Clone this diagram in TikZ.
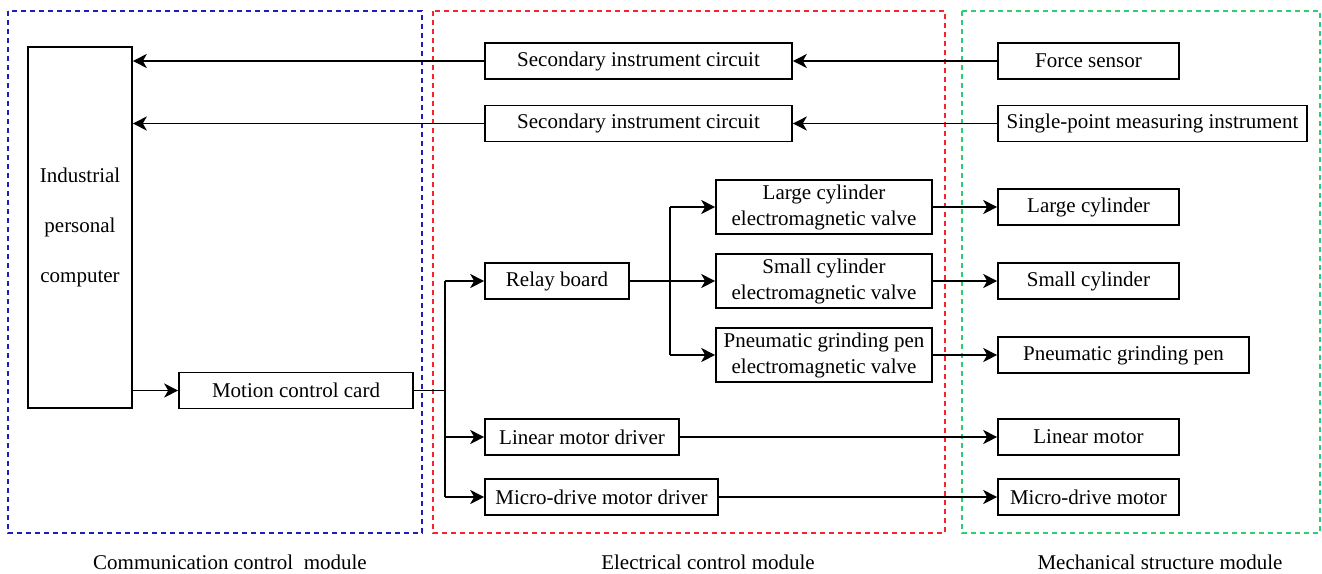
\documentclass[tikz,border=0pt]{standalone}
\usepackage{fontspec}
\setmainfont{Liberation Serif}
\usetikzlibrary{arrows.meta}
\definecolor{modblue}{RGB}{30,30,185}
\definecolor{modred}{RGB}{250,35,45}
\definecolor{modgreen}{RGB}{45,205,115}

\begin{document}
\begin{tikzpicture}[x=0.5pt,y=-0.5pt,
  box/.style={draw,line width=0.8pt,inner sep=0pt,minimum height=18pt,align=center,
    font=\fontsize{10.5}{13}\selectfont},
  frame/.style={line width=0.8pt,dash pattern=on 2.5pt off 2pt},
  wire/.style={line width=0.8pt},
  link/.style={wire,-{Stealth[length=7pt,width=7pt,inset=2pt]}},
  caption/.style={font=\fontsize{10.5}{13}\selectfont}]

\useasboundingbox (0,0) rectangle (1322,573);

% module frames
\draw[frame,modblue] (8,11) rectangle (422,533);
\draw[frame,modred] (433,11) rectangle (945,533);
\draw[frame,modgreen] (962,11) rectangle (1320,533);

\node[caption] (commlab) at (230,562) {Communication control\ \ module};
\node[caption] (eleclab) at (708,562) {Electrical control module};
\node[caption] (mechlab) at (1160,562) {Mechanical structure module};

% communication control
\node[box,minimum width=52pt,minimum height=180.5pt,font=\fontsize{10.5}{25}\selectfont]
  (ipc) at (80,227.5) {Industrial\\personal\\computer};
\node[box,minimum width=117pt] (card) at (296,390.5) {Motion control card};

% electrical control
\node[box,minimum width=153.5pt] (sic1) at (638.5,61) {Secondary instrument circuit};
\node[box,minimum width=153.5pt] (sic2) at (638.5,123.5) {Secondary instrument circuit};
\node[box,minimum width=72pt] (relay) at (557,281) {Relay board};
\node[box,minimum width=108pt,minimum height=27pt] (lcv) at (824,207) {Large cylinder\\electromagnetic valve};
\node[box,minimum width=108pt,minimum height=27pt] (scv) at (824,281) {Small cylinder\\electromagnetic valve};
\node[box,minimum width=108pt,minimum height=27pt] (pgv) at (824,355) {Pneumatic grinding pen\\electromagnetic valve};
\node[box,minimum width=97pt] (lmd) at (582,437) {Linear motor driver};
\node[box,minimum width=116.5pt] (mdd) at (601.5,497) {Micro-drive motor driver};

% mechanical structure
\node[box,minimum width=90.5pt] (fs) at (1088.5,61) {Force sensor};
\node[box,minimum width=154.5pt] (sp) at (1152.5,123.5) {Single-point measuring instrument};
\node[box,minimum width=90.5pt] (lc) at (1088.5,207) {Large cylinder};
\node[box,minimum width=90.5pt] (sc) at (1088.5,281) {Small cylinder};
\node[box,minimum width=125.5pt] (pg) at (1123.5,355) {Pneumatic grinding pen};
\node[box,minimum width=90.5pt] (lm) at (1088.5,437) {Linear motor};
\node[box,minimum width=90.5pt] (mdm) at (1088.5,497) {Micro-drive motor};

% measuring path
\draw[link] (fs.west) -- (sic1.east);
\draw[link] (sp.west) -- (sic2.east);
\draw[link] (sic1.west) -- (ipc.east |- sic1.west);
\draw[link] (sic2.west) -- (ipc.east |- sic2.west);

% control path
\draw[link] (ipc.east |- card.west) -- (card.west);
\coordinate (j1) at (445,390.5);
\draw[wire] (card.east) -- (j1);
\draw[wire] (j1 |- relay.west) -- (j1 |- mdd.west);
\draw[link] (j1 |- relay.west) -- (relay.west);
\draw[link] (j1 |- lmd.west) -- (lmd.west);
\draw[link] (j1 |- mdd.west) -- (mdd.west);

\coordinate (j2) at (670,281);
\draw[wire] (relay.east) -- (j2);
\draw[wire] (j2 |- lcv.west) -- (j2 |- pgv.west);
\draw[link] (j2 |- lcv.west) -- (lcv.west);
\draw[link] (j2) -- (scv.west);
\draw[link] (j2 |- pgv.west) -- (pgv.west);

\draw[link] (lcv.east) -- (lc.west);
\draw[link] (scv.east) -- (sc.west);
\draw[link] (pgv.east) -- (pg.west);
\draw[link] (lmd.east) -- (lm.west);
\draw[link] (mdd.east) -- (mdm.west);

\end{tikzpicture}
\end{document}
